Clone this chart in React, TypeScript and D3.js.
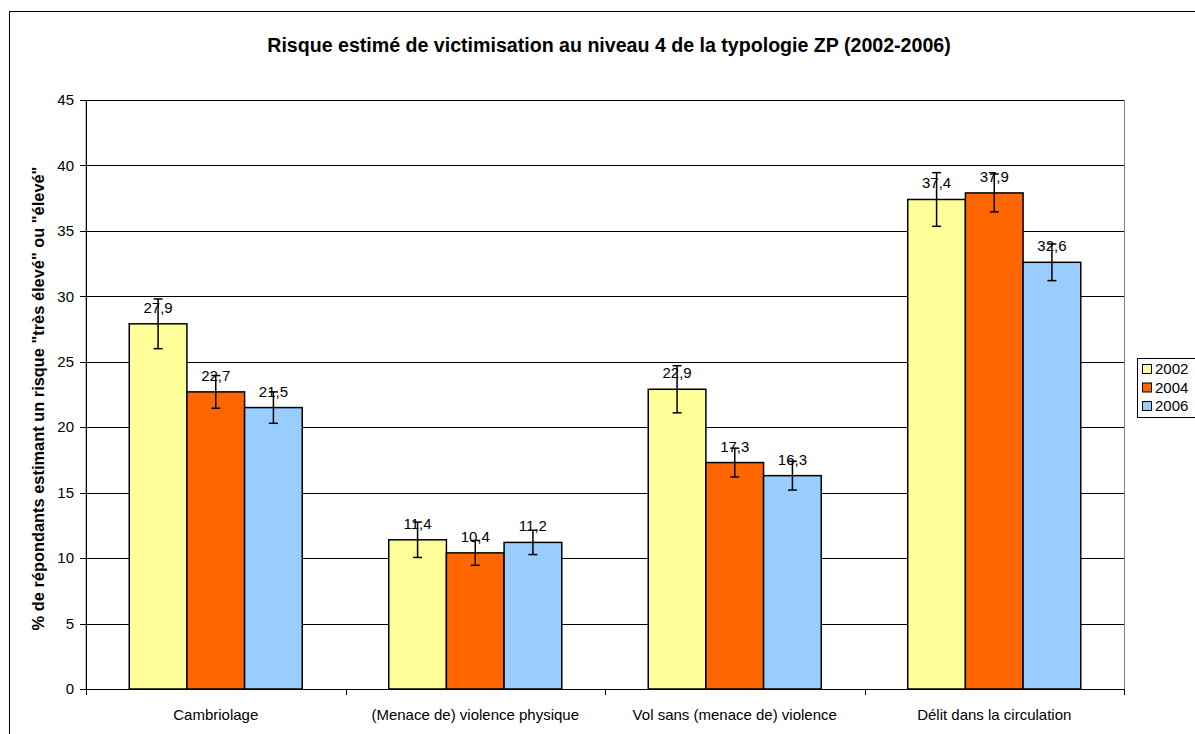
import React from "react";
import * as d3 from "d3";

const categories = [
  "Cambriolage",
  "(Menace de) violence physique",
  "Vol sans (menace de) violence",
  "Délit dans la circulation",
];
const years = ["2002", "2004", "2006"];
const values2002 = [27.9, 11.4, 22.9, 37.4];
const values2004 = [22.7, 10.4, 17.3, 37.9];
const values2006 = [21.5, 11.2, 16.3, 32.6];
const err2002 = [1.9, 1.35, 1.8, 2.05];
const err2004 = [1.25, 0.95, 1.1, 1.45];
const err2006 = [1.2, 0.93, 1.1, 1.4];
const yTicks = [0, 5, 10, 15, 20, 25, 30, 35, 40, 45];
const colors = ["#FFFF99", "#FF6600", "#99CCFF"];

const title = "Risque estimé de victimisation au niveau 4 de la typologie ZP (2002-2006)";
const yLabel = "% de répondants estimant un risque \"très élevé\" ou \"élevé\"";

const W = 1195;
const H = 734;
const font = "'Liberation Sans', Arial, sans-serif";

export default function App() {
  const left = 86, right = 1124, top = 100, bottom = 689;
  const x0 = d3.scaleBand<string>().domain(categories).range([left, right]).padding(0);
  const x1 = d3
    .scaleBand<string>()
    .domain(years)
    .range([0, x0.bandwidth()])
    .paddingInner(0)
    .paddingOuter(0.75);
  const y = d3.scaleLinear().domain([0, 45]).range([bottom, top]);

  const series = [
    { year: years[0], vals: values2002, errs: err2002, color: colors[0] },
    { year: years[1], vals: values2004, errs: err2004, color: colors[1] },
    { year: years[2], vals: values2006, errs: err2006, color: colors[2] },
  ];

  const fmt = (v: number) => v.toFixed(1).replace(".", ",");

  return (
    <svg
      width={W}
      height={H}
      style={{ position: "absolute", left: 0, top: 0, background: "#fff" }}
      fontFamily={font}
    >
      <rect x={0} y={0} width={W} height={H} fill="#fff" />
      <rect x={9.5} y={11.5} width={1250} height={800} fill="none" stroke="#000" strokeWidth={1} />

      <text x={609} y={52} textAnchor="middle" fontSize={19.6} fontWeight="bold">
        {title}
      </text>

      {/* plot area border */}
      <rect x={left} y={top + 0.5} width={right - left + 0.5} height={bottom - top} fill="none" stroke="#808080" strokeWidth={1} />

      {/* gridlines */}
      {yTicks.filter((t) => t > 0).map((t) => (
        <line key={"g" + t} x1={left} x2={right} y1={Math.round(y(t)) + 0.5} y2={Math.round(y(t)) + 0.5} stroke="#000" strokeWidth={1} />
      ))}

      {/* y axis */}
      <line x1={left + 0.5} x2={left + 0.5} y1={top} y2={bottom} stroke="#000" />
      {yTicks.map((t) => (
        <g key={"t" + t}>
          <line x1={left - 6} x2={left} y1={Math.round(y(t)) + 0.5} y2={Math.round(y(t)) + 0.5} stroke="#000" />
          <text x={left - 12} y={y(t)} dy="0.35em" textAnchor="end" fontSize={15}>
            {t}
          </text>
        </g>
      ))}
      <text
        transform={`translate(38,${(top + bottom) / 2 + 4}) rotate(-90)`}
        textAnchor="middle"
        dy="0.35em"
        fontSize={16.4}
        fontWeight="bold"
      >
        {yLabel}
      </text>

      {/* bars */}
      {series.map((s) =>
        categories.map((c, i) => {
          const bx = (x0(c) as number) + (x1(s.year) as number);
          const bw = x1.bandwidth();
          const v = s.vals[i];
          return (
            <rect key={s.year + c} x={bx} y={y(v)} width={bw} height={bottom - y(v)} fill={s.color} stroke="#000" strokeWidth={1.5} />
          );
        })
      )}

      {/* x axis */}
      <line x1={left} x2={right} y1={bottom + 0.5} y2={bottom + 0.5} stroke="#000" />
      {[...categories.map((c) => x0(c) as number), right].map((xv, i) => (
        <line key={"xt" + i} x1={Math.round(xv) + 0.5} x2={Math.round(xv) + 0.5} y1={bottom} y2={bottom + 6} stroke="#000" />
      ))}
      {categories.map((c) => (
        <text key={"xl" + c} x={(x0(c) as number) + x0.bandwidth() / 2} y={720} textAnchor="middle" fontSize={15}>
          {c}
        </text>
      ))}

      {/* labels and error bars */}
      {series.map((s) =>
        categories.map((c, i) => {
          const bx = (x0(c) as number) + (x1(s.year) as number);
          const bw = x1.bandwidth();
          const v = s.vals[i];
          const e = s.errs[i];
          const cx = bx + bw / 2;
          return (
            <g key={"e" + s.year + c}>
              <text x={cx} y={y(v) - 11} textAnchor="middle" fontSize={15}>
                {fmt(v)}
              </text>
              <line x1={cx} x2={cx} y1={y(v + e)} y2={y(v - e)} stroke="#000" strokeWidth={1.5} />
              <line x1={cx - 4.5} x2={cx + 4.5} y1={y(v + e)} y2={y(v + e)} stroke="#000" strokeWidth={1.5} />
              <line x1={cx - 4.5} x2={cx + 4.5} y1={y(v - e)} y2={y(v - e)} stroke="#000" strokeWidth={1.5} />
            </g>
          );
        })
      )}

      {/* legend */}
      <rect x={1137.5} y={358.5} width={80} height={59} fill="#fff" stroke="#000" strokeWidth={1} />
      {series.map((s, i) => (
        <g key={"lg" + s.year}>
          <rect x={1142.5} y={364.5 + i * 18.5} width={9} height={9} fill={s.color} stroke="#000" strokeWidth={1} />
          <text x={1155} y={369 + i * 18.5} dy="0.35em" fontSize={15}>
            {s.year}
          </text>
        </g>
      ))}
    </svg>
  );
}
